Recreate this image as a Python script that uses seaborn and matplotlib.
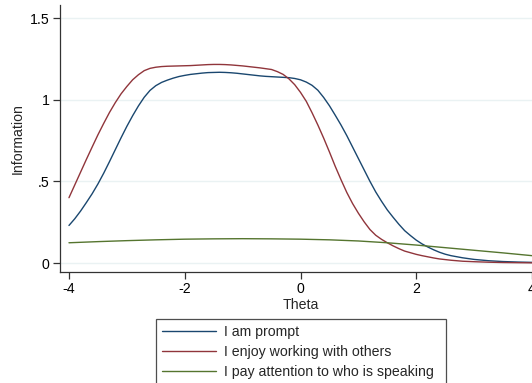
import numpy as np
import pandas as pd
import matplotlib
matplotlib.use("Agg")
import matplotlib.pyplot as plt
import seaborn as sns
from matplotlib.lines import Line2D

theta = [-4.0, -3.9, -3.8, -3.7, -3.6, -3.5, -3.4, -3.3, -3.2, -3.1,
         -3.0, -2.9, -2.8, -2.7, -2.6, -2.5, -2.4, -2.3, -2.2, -2.1,
         -2.0, -1.9, -1.8, -1.7, -1.6, -1.5, -1.4, -1.3, -1.2, -1.1,
         -1.0, -0.9, -0.8, -0.7, -0.6, -0.5, -0.4, -0.3, -0.2, -0.1,
         0.0, 0.1, 0.2, 0.3, 0.4, 0.5, 0.6, 0.7, 0.8, 0.9,
         1.0, 1.1, 1.2, 1.3, 1.4, 1.5, 1.6, 1.7, 1.8, 1.9,
         2.0, 2.1, 2.2, 2.3, 2.4, 2.5, 2.6, 2.8, 3.0, 3.25,
         3.5, 3.75, 4.0]
info_prompt = [0.230, 0.271, 0.318, 0.370, 0.424, 0.484, 0.550, 0.621, 0.694, 0.767,
               0.837, 0.902, 0.962, 1.015, 1.057, 1.086, 1.106, 1.120, 1.132, 1.142,
               1.149, 1.155, 1.159, 1.163, 1.166, 1.167, 1.168, 1.167, 1.165, 1.162,
               1.158, 1.154, 1.150, 1.146, 1.143, 1.141, 1.139, 1.137, 1.135, 1.130,
               1.122, 1.108, 1.088, 1.058, 1.014, 0.963, 0.905, 0.845, 0.780, 0.710,
               0.640, 0.570, 0.500, 0.435, 0.378, 0.325, 0.280, 0.237, 0.198, 0.168,
               0.140, 0.117, 0.098, 0.081, 0.066, 0.054, 0.045, 0.032, 0.022, 0.014,
               0.009, 0.006, 0.004]
info_enjoy = [0.400, 0.478, 0.556, 0.634, 0.710, 0.785, 0.855, 0.922, 0.982, 1.036,
              1.081, 1.122, 1.153, 1.178, 1.192, 1.199, 1.203, 1.205, 1.206, 1.207,
              1.208, 1.209, 1.211, 1.213, 1.215, 1.216, 1.216, 1.215, 1.213, 1.210,
              1.207, 1.203, 1.199, 1.195, 1.190, 1.185, 1.172, 1.155, 1.128, 1.092,
              1.045, 0.990, 0.920, 0.845, 0.765, 0.680, 0.592, 0.510, 0.432, 0.364,
              0.305, 0.252, 0.205, 0.170, 0.145, 0.124, 0.105, 0.088, 0.073, 0.063,
              0.053, 0.045, 0.038, 0.031, 0.025, 0.021, 0.017, 0.011, 0.008, 0.005,
              0.003, 0.002, 0.001]
theta_green = [-4.0, -3.5, -3.0, -2.5, -2.0, -1.5, -1.0, -0.5, 0.0, 0.5,
               1.0, 1.5, 2.0, 2.5, 3.0, 3.5, 4.0]
info_attention = [0.124, 0.131, 0.137, 0.142, 0.146, 0.148, 0.149, 0.148, 0.146, 0.142,
                  0.135, 0.124, 0.110, 0.094, 0.078, 0.062, 0.045]

labels = ["I am prompt", "I enjoy working with others", "I pay attention to who is speaking"]
colors = ["#1a476f", "#90353b", "#55752f"]
xticks = [-4, -2, 0, 2, 4]
xticklabels = ["-4", "-2", "0", "2", "4"]
yticks = [0, 0.5, 1, 1.5]
yticklabels = ["0", ".5", "1", "1.5"]

df = pd.concat([
    pd.DataFrame({"Theta": theta, "Information": info_prompt, "item": labels[0]}),
    pd.DataFrame({"Theta": theta, "Information": info_enjoy, "item": labels[1]}),
    pd.DataFrame({"Theta": theta_green, "Information": info_attention, "item": labels[2]}),
], ignore_index=True)

sns.set_style("white")
plt.rcParams["font.family"] = ["Liberation Sans", "DejaVu Sans"]
FS = 10.2
plt.rcParams["font.size"] = FS

fig = plt.figure(figsize=(5.32, 3.83), dpi=100)
ax = fig.add_axes([60/532, 1 - 272/383, 481/532, 267/383])

for y in yticks:
    ax.axhline(y, color="#eaf2f3", lw=1.0, zorder=0)

sns.lineplot(data=df, x="Theta", y="Information", hue="item", hue_order=labels,
             palette=colors, linewidth=1.0, ax=ax, legend=False, zorder=3)

ax.set_xlim(-4.155, 4.155)
ax.set_ylim(-0.055, 1.58)
ax.set_xticks(xticks)
ax.set_xticklabels(xticklabels)
ax.set_yticks(yticks)
ax.set_yticklabels(yticklabels)
ax.tick_params(axis="both", direction="out", length=5, width=0.9, color="#333333",
               pad=2.5, labelsize=FS, labelcolor="black")
ax.tick_params(axis="both", which="both", bottom=True, left=True)
for s in ["top", "right"]:
    ax.spines[s].set_visible(False)
for s in ["left", "bottom"]:
    ax.spines[s].set_color("#333333")
    ax.spines[s].set_linewidth(0.9)
ax.grid(False)
ax.set_xlabel("Theta", fontsize=FS, labelpad=1.0)
ax.set_ylabel("Information", fontsize=FS, labelpad=4)

handles = [Line2D([0], [0], color=c, lw=1.0) for c in colors]
leg = fig.legend(handles, labels, loc="upper left", mode="expand",
                 bbox_to_anchor=(156/532, 0, 290/532, 1 - 319/383),
                 frameon=True, fancybox=False,
                 fontsize=FS, handlelength=3.75, handletextpad=0.6, borderpad=0.45,
                 labelspacing=0.42, borderaxespad=0)
leg.get_frame().set_edgecolor("#222222")
leg.get_frame().set_linewidth(0.9)

fig.savefig("out.png", dpi=100)
